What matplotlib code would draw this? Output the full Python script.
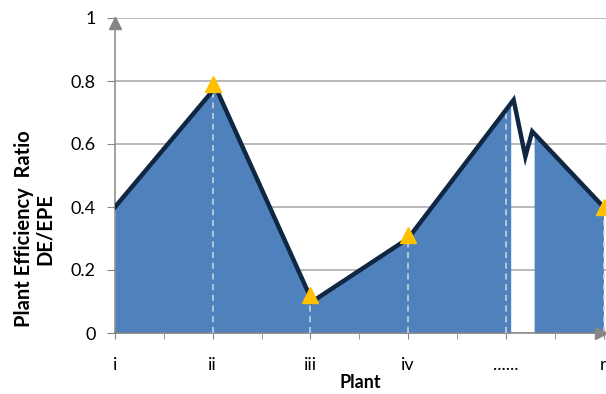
import numpy as np
import matplotlib
matplotlib.use('Agg')
import matplotlib.pyplot as plt

plt.rcParams['font.family'] = ['Lato', 'DejaVu Sans']

# plant categories on the x axis
plants = ['i', 'ii', 'iii', 'iv', '......', 'r']

# efficiency curve (x in plant-index units, incl. the break zigzag)
line_x = [0, 1.03, 2.02, 3, 4.08, 4.2, 4.27, 5]
line_y = [0.40, 0.78, 0.10, 0.30, 0.74, 0.56, 0.64, 0.40]

# highlighted plants (triangles)
marker_x = [1, 2, 3, 5]
marker_y = [0.79, 0.12, 0.31, 0.40]

# filled area pieces (left of / right of the break)
fill_pieces = [(0, 4.05), (4.29, 5)]

# dashed drop lines
drop_x = [1, 2, 3, 4, 5]

fig = plt.figure(figsize=(6.06, 3.94), dpi=100)
ax = fig.add_axes([115 / 606, 61 / 394, 491 / 606, 315 / 394])

for x0, x1 in fill_pieces:
    xs = np.linspace(x0, x1, 200)
    xs = np.unique(np.concatenate([xs, [v for v in line_x if x0 <= v <= x1]]))
    ax.fill_between(xs, 0, np.interp(xs, line_x, line_y), color='#4F81BD', lw=0, zorder=2)

for x in drop_x:
    top = np.interp(x, line_x, line_y)
    ax.plot([x, x], [0, top], color='#D0D8E4', lw=1.1, ls=(0, (4, 3)), zorder=3)

ax.plot(line_x, line_y, color='#0F2742', lw=3.2, solid_joinstyle='miter', zorder=4)
ax.plot(marker_x, marker_y, ls='none', marker='^', ms=11, color='#FFC000', zorder=5, clip_on=False)

ax.set_xlim(0, 491 / 97.7)
ax.set_ylim(0, 1)
ax.set_yticks([0, 0.2, 0.4, 0.6, 0.8, 1])
ax.set_yticklabels(['0', '0.2', '0.4', '0.6', '0.8', '1'], fontsize=13)
ax.set_xticks(range(len(plants)))
ax.set_xticklabels(plants, fontsize=13)
ax.set_xticks(np.arange(0.5, 5, 1), minor=True)

ax.yaxis.grid(True, color='#A6A6A6', lw=1.1, zorder=0)
ax.set_axisbelow(True)
for s in ['top', 'right']:
    ax.spines[s].set_visible(False)
for s in ['left', 'bottom']:
    ax.spines[s].set_color('#868686')
    ax.spines[s].set_linewidth(1.1)
ax.tick_params(axis='y', length=6, color='#868686', pad=8)
ax.tick_params(axis='x', which='major', direction='inout', length=8, color='#868686', pad=13)
ax.tick_params(axis='x', which='minor', length=4, color='#868686')

# axis arrows
ax.plot([0], [0.985], marker='^', ms=9, color='#868686', clip_on=False, zorder=6)
ax.plot([4.97], [0], marker='>', ms=9, color='#868686', clip_on=False, zorder=6)

ax.set_xlabel('Plant', fontsize=13, fontweight='bold', labelpad=1)
ax.set_ylabel('Plant Efficiency  Ratio\nDE/EPE', fontsize=14.5, fontweight='bold',
              linespacing=1.05)
ax.yaxis.set_label_coords(-0.123, 0.33)

fig.savefig('out.png', dpi=100)
